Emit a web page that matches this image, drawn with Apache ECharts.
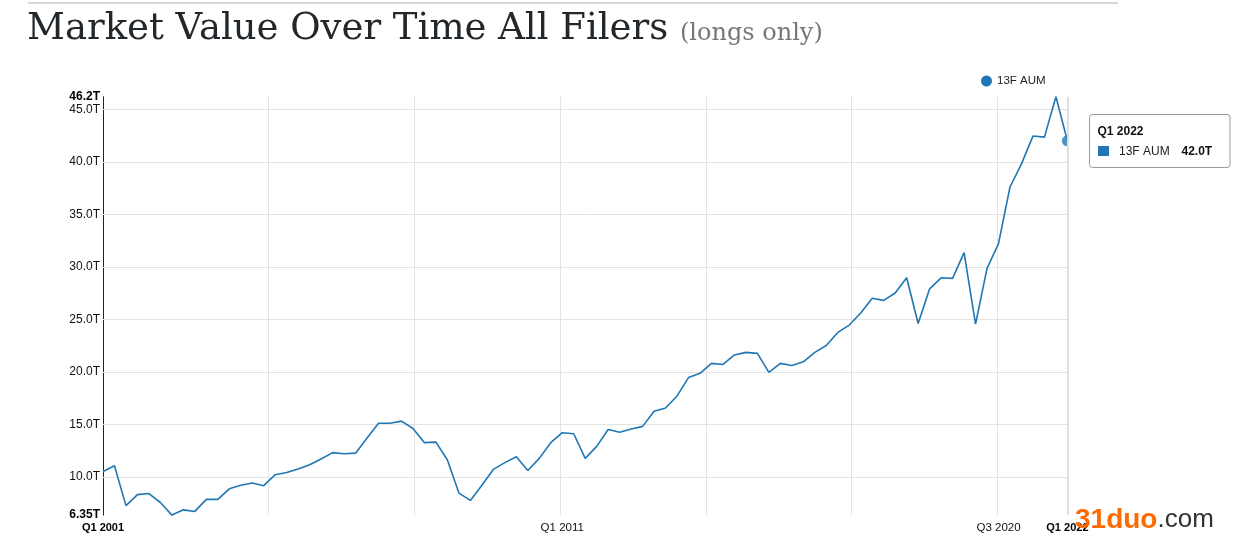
<!DOCTYPE html>
<html><head><meta charset="utf-8">
<script src="https://cdn.jsdelivr.net/npm/echarts@6/dist/echarts.min.js"></script>
<style>html,body{margin:0;padding:0;background:#fff}#c{width:1236px;height:541px}</style>
</head><body><div id="c"></div>
<script>
const seriesName = '13F AUM';
// Quarterly market value (trillions USD), Q1 2001 .. Q1 2022
const aumValues = [
  10.5, 11.05, 7.25, 8.3, 8.4, 7.55, 6.35, 6.85, 6.7, 7.85,
  7.85, 8.85, 9.2, 9.4, 9.15, 10.2, 10.4, 10.75, 11.15, 11.7,
  12.3, 12.2, 12.25, 13.7, 15.1, 15.1, 15.3, 14.6, 13.25, 13.3,
  11.6, 8.45, 7.75, 9.2, 10.7, 11.35, 11.9, 10.6, 11.75, 13.25,
  14.2, 14.1, 11.75, 12.9, 14.5, 14.25, 14.55, 14.8, 16.25, 16.55,
  17.7, 19.45, 19.85, 20.8, 20.7, 21.6, 21.85, 21.75, 19.95, 20.8,
  20.6, 20.95, 21.85, 22.5, 23.75, 24.45, 25.6, 27.0, 26.8, 27.5,
  28.95, 24.6, 27.9, 28.95, 28.9, 31.35, 24.55, 29.85, 32.2, 37.6,
  39.8, 42.45, 42.35, 46.2, 42.0
];
const quarters = [];
for (let y = 2001; y <= 2022; y++) for (let q = 1; q <= 4; q++) if (quarters.length < aumValues.length) quarters.push('Q' + q + ' ' + y);

const xLabelIndex = [0, 40, 78, 84];
const xBoldIndex = [0, 84];
const yTickValues = [6.35, 10, 15, 20, 25, 30, 35, 40, 45, 46.2];
const yBoldValues = [6.35, 46.2];
const yGridValues = [10, 15, 20, 25, 30, 35, 40, 45];
const xGridValues = [14.4, 27.1, 39.8, 52.5, 65.2, 77.9];
const yMin = 6.35, yMax = 46.2;
const hoverIndex = 84;

const FONT = '"Liberation Sans", Arial, sans-serif';
const lineColor = '#1f77b4';
const chart = echarts.init(document.getElementById('c'), null, {renderer: 'canvas'});

const seriesData = aumValues.map((v, i) => [i, v]);

const gridLines = yGridValues.map(v => ({yAxis: v})).concat(xGridValues.map(v => ({xAxis: v})));

chart.setOption({
  animation: false,
  backgroundColor: '#fff',
  grid: {left: 103, top: 96.7, right: 168.6, bottom: 25.9},
  legend: {
    data: [seriesName], left: 976, top: 70, icon: 'circle', itemWidth: 11, itemHeight: 11,
    textStyle: {fontFamily: FONT, fontSize: 11.5, color: '#222'}
  },
  xAxis: {
    type: 'value', min: 0, max: aumValues.length - 1,
    axisLine: {show: false}, axisTick: {show: false}, splitLine: {show: false},
    axisLabel: {
      customValues: xLabelIndex, margin: 7, fontFamily: FONT, fontSize: 11.5, color: '#111',
      formatter: v => xBoldIndex.includes(v) ? '{b|' + quarters[v] + '}' : quarters[v],
      rich: {b: {fontWeight: 'bold', fontFamily: FONT, fontSize: 11, color: '#000'}}
    }
  },
  yAxis: {
    type: 'value', min: yMin, max: yMax,
    axisLine: {show: true, lineStyle: {color: '#222', width: 1}},
    axisTick: {show: false}, splitLine: {show: false},
    axisLabel: {
      customValues: yTickValues, margin: 3, fontFamily: FONT, fontSize: 12, color: '#111',
      formatter: v => {
        const s = (v === 6.35 ? '6.35' : v.toFixed(1)) + 'T';
        return yBoldValues.includes(v) ? '{b|' + s + '}' : s;
      },
      rich: {b: {fontWeight: 'bold', fontFamily: FONT, fontSize: 12, color: '#000'}}
    }
  },
  series: [
    {
      name: seriesName, type: 'line', data: seriesData, showSymbol: false, symbol: 'none',
      lineStyle: {color: lineColor, width: 1.6}, itemStyle: {color: lineColor}, z: 3,
      markLine: {
        silent: true, symbol: 'none', label: {show: false}, animation: false,
        lineStyle: {color: '#e3e3e3', width: 1, type: 'solid'}, data: gridLines, z: 1
      }
    },
    {
      name: 'hover', type: 'scatter', data: [seriesData[hoverIndex]], symbolSize: 11,
      itemStyle: {color: lineColor}, z: 4, silent: true
    }
  ]
});

const hoverPt = chart.convertToPixel({gridIndex: 0}, seriesData[hoverIndex]);
const hoverTop = chart.convertToPixel({gridIndex: 0}, [hoverIndex, yMax]);
const hoverBot = chart.convertToPixel({gridIndex: 0}, [hoverIndex, yMin]);
const tipX = 1089.5, tipY = 114.5;

chart.setOption({
  graphic: [
    {type: 'rect', shape: {x: 28, y: 2, width: 1090, height: 2}, style: {fill: '#d3d9dd'}, z: 100},
    {type: 'text', x: 27, y: 29, z: 100, style: {text: 'Market Value Over Time All Filers', fontFamily: '"DejaVu Serif", serif', fontSize: 37, fill: '#22272b', verticalAlign: 'middle'}},
    {type: 'text', x: 680, y: 34, z: 100, style: {text: '(longs only)', fontFamily: '"DejaVu Serif", serif', fontSize: 24, fill: '#777', verticalAlign: 'middle'}},
    {type: 'rect', shape: {x: hoverPt[0] + 0.8, y: hoverPt[1] - 8, width: 14, height: 16}, style: {fill: '#fff'}, z: 100},
    {type: 'line', shape: {x1: hoverPt[0] + 0.5, y1: hoverTop[1], x2: hoverPt[0] + 0.5, y2: hoverBot[1]}, style: {stroke: '#dedede', lineWidth: 2}, z: 101},
    {type: 'rect', shape: {x: tipX, y: tipY, width: 140.5, height: 53, r: 3}, style: {fill: '#fff', stroke: '#999', lineWidth: 1}, z: 102},
    {type: 'text', x: tipX + 8, y: tipY + 17, z: 103, style: {text: quarters[hoverIndex], fontFamily: FONT, fontWeight: 'bold', fontSize: 12, fill: '#111', verticalAlign: 'middle'}},
    {type: 'rect', shape: {x: tipX + 8.5, y: tipY + 31.5, width: 11, height: 10}, style: {fill: lineColor}, z: 103},
    {type: 'text', x: tipX + 29.5, y: tipY + 37, z: 103, style: {text: seriesName, fontFamily: FONT, fontSize: 12, fill: '#222', verticalAlign: 'middle'}},
    {type: 'text', x: tipX + 92, y: tipY + 37, z: 103, style: {text: aumValues[hoverIndex].toFixed(1) + 'T', fontFamily: FONT, fontWeight: 'bold', fontSize: 12, fill: '#111', verticalAlign: 'middle'}},
    {type: 'text', x: 1075, y: 520, z: 110, style: {text: '{o|31duo}{c|.com}', verticalAlign: 'middle',
      rich: {o: {fontFamily: FONT, fontWeight: 'bold', fontSize: 28, fill: '#ff6a00'}, c: {fontFamily: FONT, fontSize: 26, fill: '#333'}}}}
  ]
});
</script>
</body></html>
